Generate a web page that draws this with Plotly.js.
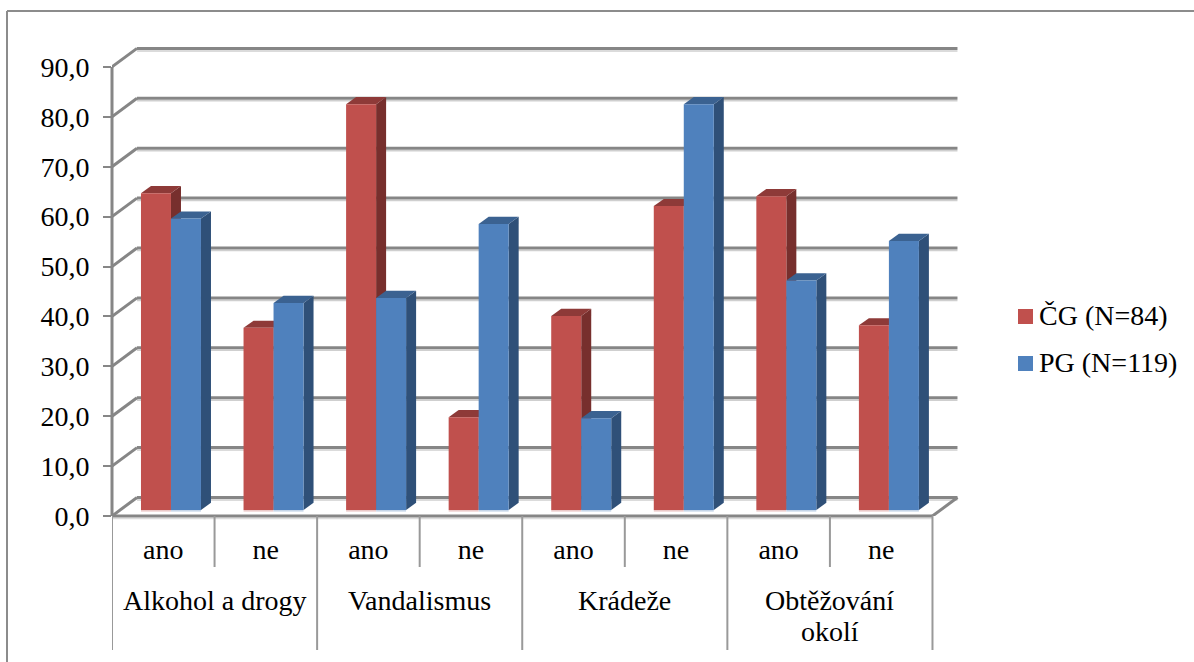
<!DOCTYPE html>
<html>
<head>
<meta charset="utf-8">
<script src="https://cdn.plot.ly/plotly-3.0.1.min.js"></script>
<style>html,body{margin:0;padding:0;background:#fff;overflow:hidden}#c{width:1194px;height:662px}</style>
</head>
<body>
<div id="c"></div>
<script>
const groups = ["Alkohol a drogy", "Vandalismus", "Krádeže", "Obtěžování<br>okolí"];
const answers = ["ano", "ne", "ano", "ne", "ano", "ne", "ano", "ne"];
const seriesNames = ["ČG (N=84)", "PG (N=119)"];
const cgValues = [63.5, 36.5, 81.3, 18.6, 38.9, 60.9, 62.9, 37.0];
const pgValues = [58.4, 41.5, 42.5, 57.3, 18.4, 81.3, 46.0, 53.9];
const yTicks = [0, 10, 20, 30, 40, 50, 60, 70, 80, 90];

const W = 1194, H = 662;
const M = {l: 112, r: 229, t: 40, b: 146};
const plotW = W - M.l - M.r, plotH = H - M.t - M.b;
const catPx = 102.56, unitPx = 4.99;
const xMax = plotW / catPx, yMax = plotH / unitPx;
const FONT = "Liberation Serif", FS = 28, GRAY = "#868686";
const px = v => (v - M.l) / plotW, py = v => (H - M.b - v) / plotH;

const wallDx = 25 / catPx, wallDy = 18.5 / unitPx;
const barW = 30 / catPx, barShift = 7.7 / catPx, barBase = 6 / unitPx;
const barDx = 10 / catPx, barDy = 7.2 / unitPx;

const shapes = [];
const line = (x0, y0, x1, y1, xref, yref, width, color) => shapes.push({
  type: "line", layer: "below", x0, y0, x1, y1, xref, yref,
  line: {color: color || GRAY, width}
});
const poly = (pts, fill) => shapes.push({
  type: "path", layer: "below", xref: "x", yref: "y", fillcolor: fill,
  line: {width: 0},
  path: "M" + pts.map(p => p.join(",")).join("L") + "Z"
});

// chart frame
line(px(7), py(11), px(W), py(11), "paper", "paper", 2, "#8c8c8c");
line(px(7), py(11), px(7), py(H), "paper", "paper", 2, "#8c8c8c");

// back wall gridlines with a faint shadow and their diagonals
const shadowOff = 2.5 / unitPx;
yTicks.forEach(v => {
  line(wallDx, v + wallDy - shadowOff, answers.length + wallDx, v + wallDy - shadowOff, "x", "y", 1.5, "#cfcfcf");
  line(0, v, wallDx, v + wallDy, "x", "y", 3);
  line(wallDx, v + wallDy, answers.length + wallDx, v + wallDy, "x", "y", 3);
});
line(answers.length, 0, answers.length + wallDx, wallDy, "x", "y", 3);

// value axis and floor front edge
line(0, 0, 0, 90, "paper", "y", 3);
line(0, py(518.5), answers.length, py(518.5), "x", "paper", 1.5, "#dcdcdc");
line(0, py(516), answers.length, py(516), "x", "paper", 3);

// category dividers
answers.forEach((a, i) => line(i, py(516), i, py(i % 2 ? 567 : 650), "x", "paper", 2, "#999999"));
line(answers.length, py(516), answers.length, py(650), "x", "paper", 2, "#999999");

// depth faces and contact shadow of the bars
const xs = [0, 1].map(s => answers.map((a, i) => i + 0.5 + barShift + (s - 1) * barW));
const shadowH = 1.6 / unitPx;
[[cgValues, "#772F2D", "#8E3A38", "#EBC9C8"], [pgValues, "#2F5078", "#3B6291", "#C5D5E8"]].forEach(([vals, side, top, soft], s) => {
  vals.forEach((v, i) => {
    const l = xs[s][i], r = l + barW, t = v + barBase;
    poly([[r, barBase], [r + barDx, barBase + barDy], [r + barDx, t + barDy], [r, t]], side);
    poly([[l, t], [l + barDx, t + barDy], [r + barDx, t + barDy], [r, t]], top);
    poly([[l, barBase], [r, barBase], [r, barBase - shadowH], [l, barBase - shadowH]], soft);
  });
});

const barTrace = (vals, s, color) => ({
  type: "bar", name: seriesNames[s], x: xs[s].map(v => v + barW / 2), y: vals,
  base: vals.map(() => barBase), width: barW,
  marker: {color, line: {width: 0}}, showlegend: false
});

// group labels (every line placed on its own row)
const annotations = [];
groups.forEach((g, i) => g.split("<br>").forEach((t, k) => annotations.push({
  text: t, xref: "x", yref: "paper", x: 2 * i + 1, y: py(600 + 31 * k),
  showarrow: false, xanchor: "center", yanchor: "middle",
  font: {family: FONT, size: FS, color: "#000"}
})));

// legend
const swatch = ["#C0504D", "#4F81BD"];
seriesNames.forEach((n, i) => {
  const cy = 316.5 + 47 * i;
  shapes.push({type: "rect", xref: "paper", yref: "paper", layer: "above",
    x0: px(1018), x1: px(1033), y0: py(cy - 7.5), y1: py(cy + 7.5),
    fillcolor: swatch[i], line: {width: 0}});
  annotations.push({text: n, xref: "paper", yref: "paper", x: px(1037), y: py(cy - 1),
    showarrow: false, xanchor: "left", yanchor: "middle",
    font: {family: FONT, size: FS, color: "#000"}});
});

Plotly.newPlot("c", [barTrace(cgValues, 0, swatch[0]), barTrace(pgValues, 1, swatch[1])], {
  width: W, height: H, margin: M, paper_bgcolor: "#fff", plot_bgcolor: "#fff",
  showlegend: false, barmode: "overlay", separators: ", ",
  font: {family: FONT, size: FS, color: "#000"},
  xaxis: {
    range: [0, xMax], tickmode: "array", ticktext: answers,
    tickvals: answers.map((a, i) => i + 0.5),
    showgrid: false, zeroline: false, showline: false,
    ticks: "outside", ticklen: 8, tickcolor: "rgba(0,0,0,0)", tickwidth: 0,
    tickfont: {family: FONT, size: FS, color: "#000"}
  },
  yaxis: {
    range: [0, yMax], tickmode: "array", tickvals: yTicks,
    ticktext: yTicks.map(v => v.toFixed(1).replace(".", ",")),
    showgrid: false, zeroline: false, showline: false,
    ticks: "outside", ticklen: 8, tickwidth: 2, tickcolor: GRAY, ticklabelstandoff: 8,
    tickfont: {family: FONT, size: FS, color: "#000"}
  },
  shapes, annotations
}, {displayModeBar: false, staticPlot: true});
</script>
</body>
</html>
